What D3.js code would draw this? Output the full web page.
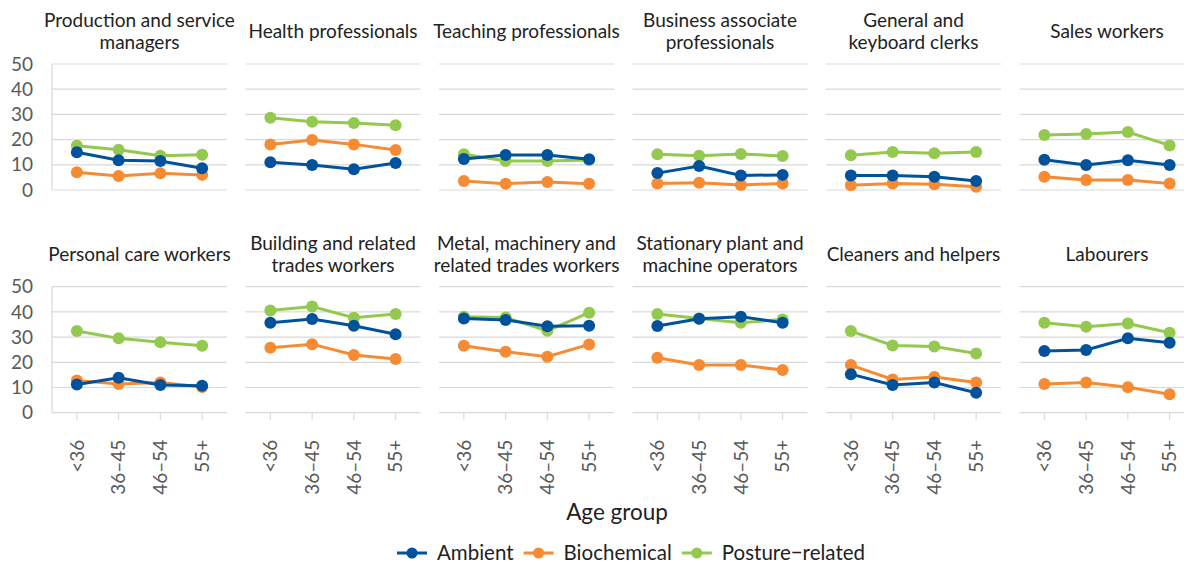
<!DOCTYPE html>
<html>
<head>
<meta charset="UTF-8">
<style>
  body { margin: 0; background: #fff; }
  text { font-family: "Source Sans Pro", Lato, "Noto Sans", sans-serif; }
</style>
</head>
<body>
<svg id="chart"></svg>
<script src="https://d3js.org/d3.v7.min.js"></script>
<script>
const width = 1184, height = 563;

const ageGroups = ["<36", "36–45", "46–54", "55+"];
const seriesNames = ["Ambient", "Biochemical", "Posture−related"];
const seriesColors = ["#00529C", "#F68B33", "#93C94E"];
const yTicks = [0, 10, 20, 30, 40, 50];

const occupations = [
  ["Production and service", "managers"],
  ["Health professionals"],
  ["Teaching professionals"],
  ["Business associate", "professionals"],
  ["General and", "keyboard clerks"],
  ["Sales workers"],
  ["Personal care workers"],
  ["Building and related", "trades workers"],
  ["Metal, machinery and", "related trades workers"],
  ["Stationary plant and", "machine operators"],
  ["Cleaners and helpers"],
  ["Labourers"]
];

// one row per occupation, values by age group
const ambient = [
  [15.0, 11.8, 11.5, 8.6],
  [11.0, 9.9, 8.2, 10.7],
  [12.3, 13.9, 13.9, 12.2],
  [6.7, 9.5, 5.8, 6.0],
  [5.8, 5.8, 5.3, 3.6],
  [12.0, 9.9, 11.8, 9.9],
  [11.2, 13.9, 11.0, 10.7],
  [35.7, 37.2, 34.5, 31.1],
  [37.4, 36.8, 34.3, 34.5],
  [34.4, 37.3, 38.1, 35.7],
  [15.3, 11.0, 12.0, 7.9],
  [24.5, 24.9, 29.5, 27.8]
];
const biochemical = [
  [7.0, 5.6, 6.6, 6.0],
  [18.1, 19.8, 18.1, 15.9],
  [3.6, 2.5, 3.2, 2.5],
  [2.6, 2.9, 2.0, 2.6],
  [1.9, 2.6, 2.3, 1.3],
  [5.3, 4.0, 4.0, 2.6],
  [12.8, 11.4, 12.0, 10.2],
  [25.8, 27.2, 22.9, 21.3],
  [26.6, 24.2, 22.2, 27.1],
  [21.8, 18.9, 18.9, 16.9],
  [18.9, 13.2, 14.2, 12.0],
  [11.4, 12.0, 10.1, 7.3]
];
const posture = [
  [17.6, 16.0, 13.6, 14.0],
  [28.7, 27.1, 26.6, 25.7],
  [14.2, 11.5, 11.5, 11.9],
  [14.2, 13.6, 14.3, 13.5],
  [13.8, 15.1, 14.6, 15.1],
  [21.8, 22.2, 23.0, 17.7],
  [32.4, 29.5, 28.0, 26.6],
  [40.6, 42.1, 37.7, 39.2],
  [38.1, 37.8, 32.5, 39.7],
  [39.2, 37.4, 35.7, 37.0],
  [32.4, 26.7, 26.3, 23.5],
  [35.7, 34.1, 35.4, 31.7]
];
const seriesData = [ambient, biochemical, posture];

const svg = d3.select("#chart").attr("width", width).attr("height", height);

const panelW = 175, panelStep = 193.5, left0 = 52;
const plotH = 126;
const rowTop = [64, 286.7];

const y = d3.scaleLinear().domain([0, 50]).range([plotH, 0]);

occupations.forEach((title, i) => {
  const row = Math.floor(i / 6), col = i % 6;
  const x0 = left0 + col * panelStep;
  const g = svg.append("g").attr("transform", `translate(${x0},${rowTop[row]})`);
  const x = d3.scalePoint().domain(ageGroups).range([4, panelW - 4]).padding(0.5);

  // gridlines
  g.selectAll("line.grid").data(yTicks).enter().append("line")
    .attr("x1", 0).attr("x2", panelW)
    .attr("y1", d => y(d)).attr("y2", d => y(d))
    .attr("stroke", "#d9d9d9").attr("stroke-width", 1.2);

  if (col === 0) {
    g.append("line").attr("x1", 0).attr("x2", 0).attr("y1", 0).attr("y2", plotH)
      .attr("stroke", "#d9d9d9").attr("stroke-width", 1.2);
    g.selectAll("text.ytick").data(yTicks).enter().append("text")
      .attr("x", -19).attr("y", d => y(d)).attr("dy", "0.35em")
      .attr("text-anchor", "end").attr("font-size", 19).attr("fill", "#595959")
      .text(d => d);
  }

  if (row === 1) {
    ageGroups.forEach(a => {
      g.append("line").attr("x1", x(a)).attr("x2", x(a)).attr("y1", plotH).attr("y2", plotH + 7)
        .attr("stroke", "#d9d9d9").attr("stroke-width", 1.2);
      g.append("text")
        .attr("transform", `translate(${x(a)},${plotH + 27}) rotate(-90)`)
        .attr("dy", "0.35em").attr("text-anchor", "end")
        .attr("font-size", 19).attr("fill", "#595959")
        .text(a);
    });
  }

  // title
  const cx = panelW / 2;
  const lineH = 22;
  const baseY = title.length === 1 ? -26 : -37;
  title.forEach((t, k) => {
    g.append("text").attr("x", cx).attr("y", baseY + k * lineH)
      .attr("text-anchor", "middle").attr("font-size", 19).attr("fill", "#222")
      .text(t);
  });

  const line = d3.line().x((d, k) => x(ageGroups[k])).y(d => y(d));
  // drawn in reverse so Ambient sits on top
  [2, 1, 0].forEach(s => {
    const vals = seriesData[s][i];
    g.append("path").datum(vals).attr("d", line)
      .attr("fill", "none").attr("stroke", seriesColors[s]).attr("stroke-width", 3);
    g.selectAll(null).data(vals).enter().append("circle")
      .attr("cx", (d, k) => x(ageGroups[k])).attr("cy", d => y(d))
      .attr("r", 6).attr("fill", seriesColors[s]);
  });
});

svg.append("text").attr("x", 617).attr("y", 520).attr("text-anchor", "middle")
  .attr("font-size", 22.5).attr("fill", "#222").text("Age group");

// legend, laid out then centred
const legend = svg.append("g");
let lx = 0;
seriesNames.forEach((name, s) => {
  legend.append("line").attr("x1", lx).attr("x2", lx + 30).attr("y1", 0).attr("y2", 0)
    .attr("stroke", seriesColors[s]).attr("stroke-width", 3);
  legend.append("circle").attr("cx", lx + 15).attr("cy", 0).attr("r", 5.5)
    .attr("fill", seriesColors[s]);
  const t = legend.append("text").attr("x", lx + 40).attr("y", 0).attr("dy", "0.35em")
    .attr("font-size", 20.5).attr("fill", "#222").text(name);
  lx += 40 + t.node().getComputedTextLength() + 10;
});
legend.attr("transform", `translate(${631 - (lx - 10) / 2},553)`);
</script>
</body>
</html>
